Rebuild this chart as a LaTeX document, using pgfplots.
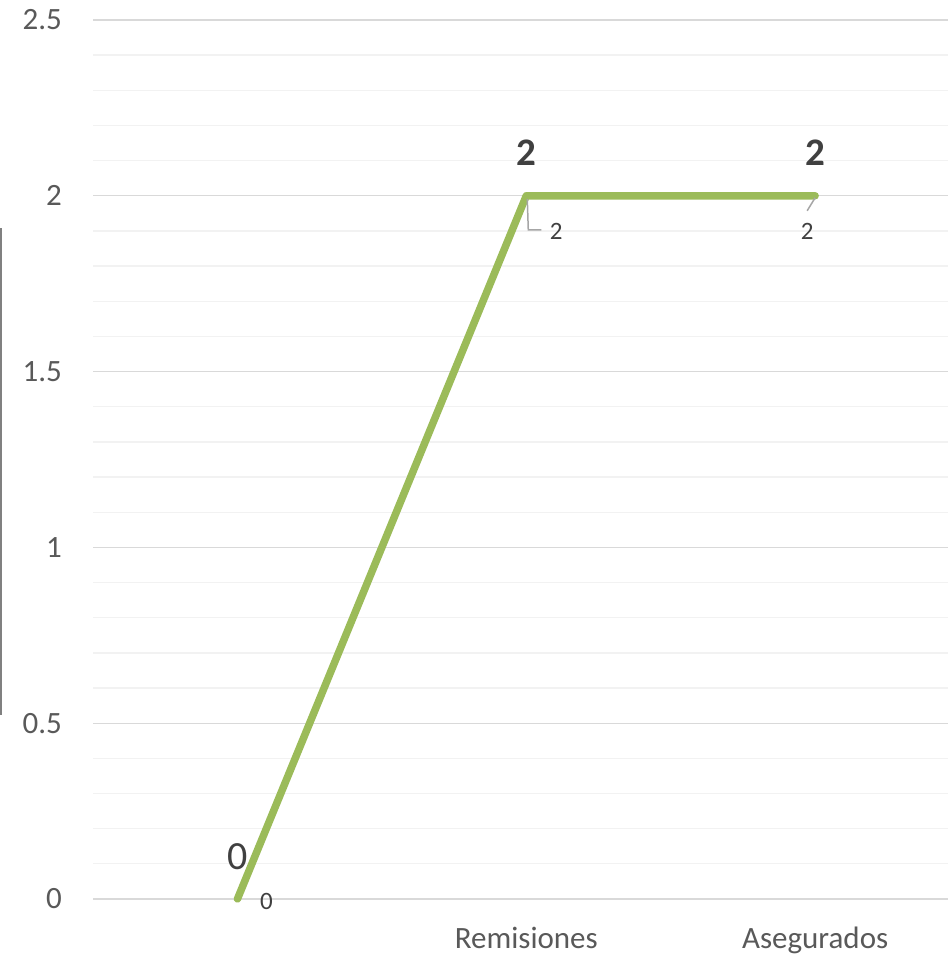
\documentclass[border=0pt]{standalone}
\usepackage{pgfplots}
\pgfplotsset{compat=1.18}
\usepackage{fontspec}
\setmainfont{Carlito}
\definecolor{linegreen}{HTML}{9BBB59}
\definecolor{ticktext}{HTML}{595959}
\definecolor{labeltext}{HTML}{404040}
\definecolor{majgrid}{HTML}{D9D9D9}
\definecolor{mingrid}{HTML}{F2F2F2}
\definecolor{leader}{HTML}{A6A6A6}
\begin{document}
\begin{tikzpicture}
\path[use as bounding box] (0,0) rectangle (948pt,957pt);
% stray border at the left edge of the original
\draw[color=gray, line width=1.5pt] (1pt,242pt) -- (1pt,729pt);
\begin{axis}[
    at={(93pt,58pt)}, anchor=south west,
    scale only axis,
    width=855pt, height=879pt,
    xmin=-0.5, xmax=2.46,
    ymin=0, ymax=2.5,
    xtick={0,1,2},
    xticklabels={,Remisiones,Asegurados},
    ytick={0,0.5,1,1.5,2,2.5},
    minor ytick={0.1,0.2,0.3,0.4,0.6,0.7,0.8,0.9,1.1,1.2,1.3,1.4,1.6,1.7,1.8,1.9,2.1,2.2,2.3,2.4},
    ymajorgrids, yminorgrids,
    major grid style={color=majgrid, line width=1.3pt},
    minor grid style={color=mingrid, line width=1.3pt},
    axis line style={draw=none},
    tick style={draw=none},
    clip=false,
    /pgf/number format/assume math mode=true,
    yticklabel style={font=\fontsize{31}{37}\selectfont, text=ticktext, anchor=east, inner sep=0pt, xshift=-31pt},
    xticklabel style={font=\fontsize{31}{37}\selectfont, text=ticktext, anchor=base, inner sep=0pt, yshift=-49pt},
    nodes near coords,
    point meta=explicit symbolic,
]
% main series
\addplot[color=linegreen, line width=7.5pt, line cap=round, line join=round, nodes near coords={}] coordinates {
    (0,0) (1,2) (2,2)
};
% large labels above the points
\addplot[draw=none, nodes near coords style={font=\fontsize{40}{48}\selectfont, text=labeltext, anchor=base, inner sep=0pt, yshift=29pt}] coordinates {
    (0,0) [0]
};
\addplot[draw=none, nodes near coords style={font=\bfseries\fontsize{39}{47}\selectfont, text=labeltext, anchor=base, inner sep=0pt, yshift=30pt}] coordinates {
    (1,2) [2] (2,2) [2]
};
% small labels with leader lines
\addplot[draw=none, nodes near coords style={font=\fontsize{25}{30}\selectfont, text=labeltext, anchor=base, inner sep=0pt, xshift=29pt, yshift=-10pt}] coordinates {
    (0,0) [0]
};
\addplot[draw=none, nodes near coords style={font=\fontsize{25}{30}\selectfont, text=labeltext, anchor=base, inner sep=0pt, xshift=30pt, yshift=-44pt}] coordinates {
    (1,2) [2]
};
\addplot[draw=none, nodes near coords style={font=\fontsize{25}{30}\selectfont, text=labeltext, anchor=base, inner sep=0pt, xshift=-8pt, yshift=-44pt}] coordinates {
    (2,2) [2]
};
\draw[color=leader, line width=1.5pt] ([shift={(1pt,-3pt)}]axis cs:1,2) -- ([shift={(2pt,-34pt)}]axis cs:1,2) -- ([shift={(15pt,-34pt)}]axis cs:1,2);
\draw[color=leader, line width=1.5pt] ([shift={(0pt,-2pt)}]axis cs:2,2) -- ([shift={(-8pt,-15pt)}]axis cs:2,2);
\end{axis}
\end{tikzpicture}
\end{document}
